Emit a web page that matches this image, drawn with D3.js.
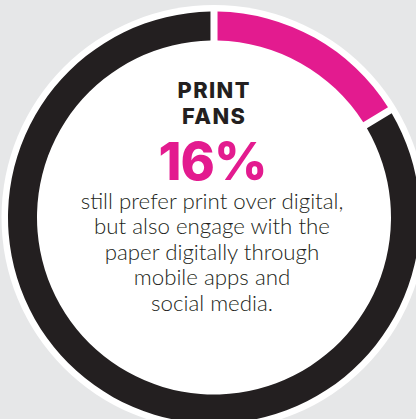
<!DOCTYPE html>
<html>
<head>
<meta charset="utf-8">
<script src="https://cdn.jsdelivr.net/npm/d3@7"></script>
<style>
  html, body { margin: 0; padding: 0; background: #e6e7e8; }
  svg { display: block; }
</style>
</head>
<body>
<script>
// Share of readers: print fans vs. everyone else
const segments = ["Print fans", "Others"];
const shares = [16, 84];
const colors = ["#e31b8f", "#231f20"];

const headline = ["PRINT", "FANS"];
const bodyLines = [
  "still prefer print over digital,",
  "but also engage with the",
  "paper digitally through",
  "mobile apps and",
  "social media."
];

const W = 416, H = 419;
const cx = 214, cy = 217.5;
const rDisc = 212.5, rOuter = 206, rInner = 177;

const svg = d3.select("body").append("svg")
  .attr("width", W).attr("height", H);

svg.append("rect").attr("width", W).attr("height", H).attr("fill", "#e6e7e8");

const g = svg.append("g").attr("transform", `translate(${cx},${cy})`);

// white backing disc
g.append("circle").attr("r", rDisc).attr("fill", "#ffffff");

const data = segments.map((s, i) => ({ name: s, value: shares[i], color: colors[i] }));

const pie = d3.pie().value(d => d.value).sort(null).padAngle(0.026);
const arc = d3.arc().innerRadius(rInner).outerRadius(rOuter);

g.selectAll("path.seg")
  .data(pie(data))
  .join("path")
  .attr("class", "seg")
  .attr("d", arc)
  .attr("fill", d => d.data.color);

// centre text
const tx = 213.5;
svg.append("text")
  .attr("class", "head")
  .attr("text-anchor", "middle")
  .attr("font-family", "Inter, sans-serif")
  .attr("font-weight", 800)
  .attr("font-size", 21.8)
  .attr("letter-spacing", 1.4)
  .attr("fill", "#231f20")
  .selectAll("tspan")
  .data(headline)
  .join("tspan")
  .attr("x", tx + 0.7)
  .attr("y", (d, i) => 97.5 + i * 26.6)
  .text(d => d);

svg.append("text")
  .attr("x", tx - 1)
  .attr("y", 180)
  .attr("text-anchor", "middle")
  .attr("font-family", "Inter, sans-serif")
  .attr("font-weight", 800)
  .attr("font-size", 52)
  .attr("letter-spacing", -1)
  .attr("fill", colors[0])
  .text(shares[0] + "%");

svg.append("text")
  .attr("class", "body")
  .attr("text-anchor", "middle")
  .attr("font-family", "Lato, sans-serif")
  .attr("font-weight", 300)
  .attr("font-size", 22.3)
  .attr("fill", "#231f20")
  .selectAll("tspan")
  .data(bodyLines)
  .join("tspan")
  .attr("x", 212)
  .attr("y", (d, i) => 209 + i * 25.4)
  .text(d => d);
</script>
</body>
</html>
